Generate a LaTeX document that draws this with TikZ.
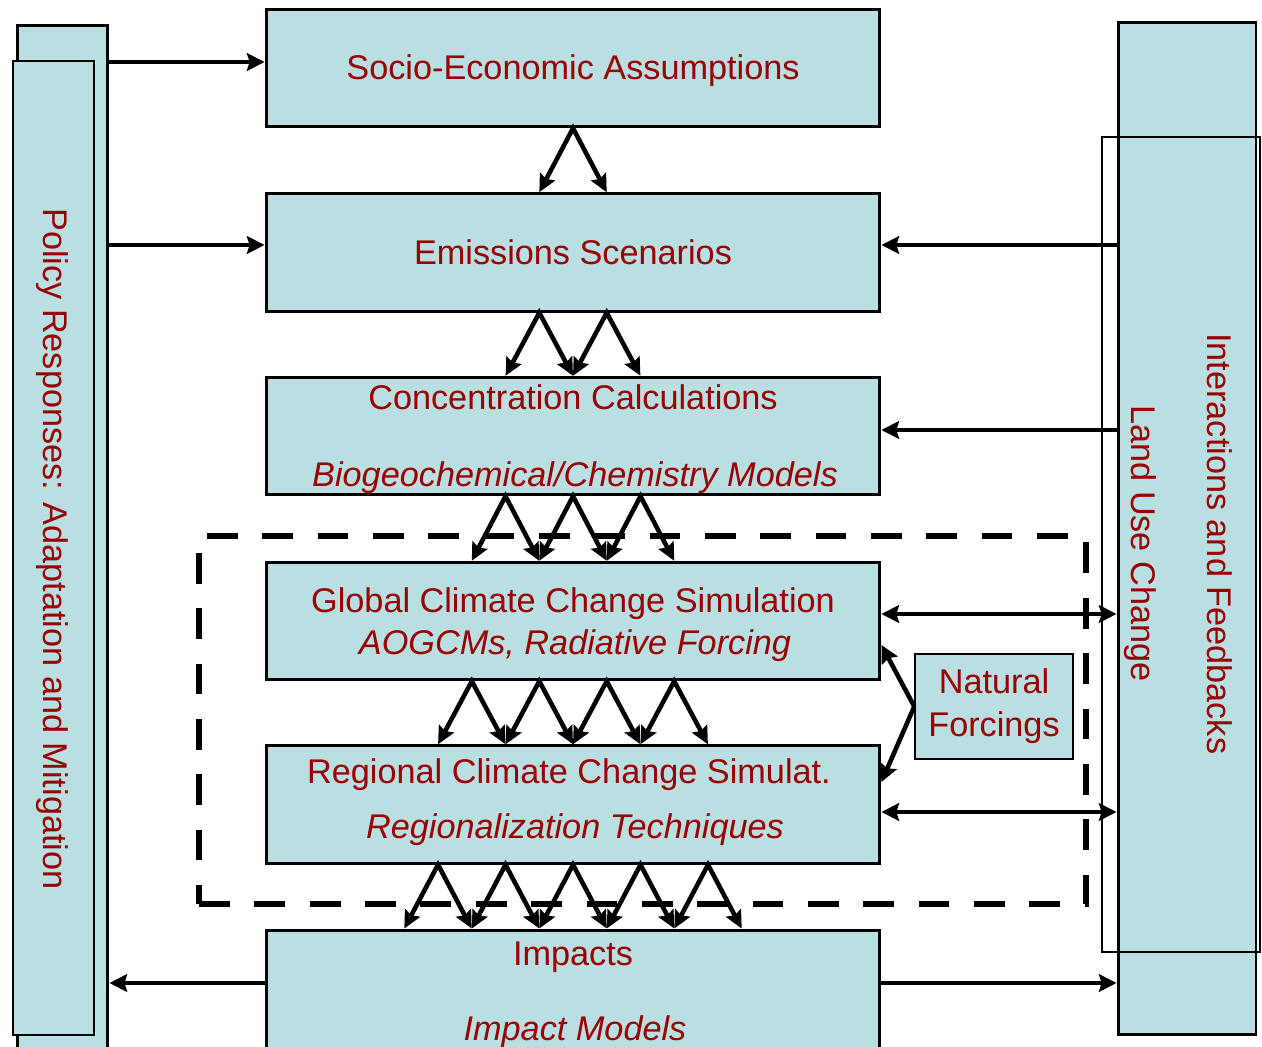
\documentclass[tikz,border=0pt]{standalone}
\usepackage{fontspec}
\setmainfont{Liberation Sans}
\usetikzlibrary{arrows.meta,positioning,calc}
\definecolor{boxfill}{HTML}{B9DFE2}
\definecolor{txtred} {HTML}{9A0000}

\begin{document}
\begin{tikzpicture}[
  x=0.02cm, y=-0.02cm,
  box/.style={rectangle, draw=black, fill=boxfill, line width=1.7pt, inner sep=0pt,
              minimum width=12.28cm, minimum height=2.35cm},
  thinbox/.style={rectangle, draw=black, fill=boxfill, line width=0.85pt, inner sep=0pt},
  txt/.style={inner sep=0pt, anchor=base, text=txtred, font=\fontsize{19.5}{23}\selectfont},
  ital/.style={txt, font=\fontsize{19.5}{23}\selectfont\itshape},
  arr/.style={-{Stealth[length=10pt,width=10pt,inset=1.5pt]}, line width=2.7pt},
  darr/.style={{Stealth[length=10pt,width=10pt,inset=1.5pt]}-{Stealth[length=10pt,width=10pt,inset=1.5pt]}, line width=2.7pt},
  zz/.style={{Stealth[length=10pt,width=9.5pt,inset=1.5pt]}-{Stealth[length=10pt,width=9.5pt,inset=1.5pt]}, line width=2.6pt, line join=miter}
]
\useasboundingbox (0,0) rectangle (1262,1047);
\clip (0,0) rectangle (1262,1047);

% side columns
\node[thinbox, line width=1.7pt, minimum width=1.82cm, minimum height=21cm] (polB) at (62.5,550) {};
\node[thinbox, minimum width=1.62cm, minimum height=19.48cm] (polF) at (53.5,548) {};
\node[thinbox, line width=1.7pt, minimum width=2.76cm, minimum height=20.26cm] (fbB) at (1187,528.5) {};
\node[rectangle, draw=black, line width=0.85pt, minimum width=3.16cm, minimum height=16.3cm] (fbF) at (1181,544.5) {};

% main chain
\node[box] (soc)  at (573,68) {};
\node[box] (emi)  at (573,252.5) {};
\node[box] (conc) at (573,436) {};
\node[box] (glob) at (573,621) {};
\node[box] (reg)  at (573,804.5) {};
\node[box, minimum height=3cm] (imp) at (573,1005) {};

% climate model frame
\node[rectangle, draw=black, line width=3.4pt, dash pattern=on 17.5pt off 14pt,
      minimum width=17.74cm, minimum height=7.36cm] (frame) at (642.5,720) {};

\node[thinbox, minimum width=3.16cm, minimum height=2.1cm, align=center, text=txtred,
      font=\fontsize{19.5}{24.4}\selectfont] (nat) at (994,706.5) {Natural\\Forcings};

% fans between the boxes
\foreach \a/\b/\offs in {soc/emi/{0}, emi/conc/{-33.7,33.7}, conc/glob/{-67.5,0,67.5},
    glob/reg/{-101.2,-33.7,33.7,101.2}, reg/imp/{-135,-67.5,0,67.5,135}}{
  \foreach \o in \offs{
    \draw[zz] ($(\b.north)+(\o-33.7,0)$) -- ($(\a.south)+(\o,0)$) -- ($(\b.north)+(\o+33.7,0)$);
  }
}

% policy side
\draw[arr] ($(soc.west -| polB.east)+(0,-6)$) -- ($(soc.west)+(0,-6)$);
\draw[arr] ($(emi.west -| polB.east)+(0,-7.5)$) -- ($(emi.west)+(0,-7.5)$);
\draw[arr] ($(imp.west)+(0,-22)$) -- ($(imp.west -| polB.east)+(0,-22)$);

% feedback side
\draw[arr] ($(emi.east -| fbB.west)+(0,-7.5)$) -- ($(emi.east)+(0,-7.5)$);
\draw[arr] ($(conc.east -| fbB.west)+(0,-6)$) -- ($(conc.east)+(0,-6)$);
\draw[darr] ($(glob.east)+(0,-7)$) -- ($(glob.east -| fbB.west)+(0,-7)$);
\draw[darr] ($(reg.east)+(0,7.5)$) -- ($(reg.east -| fbB.west)+(0,7.5)$);
\draw[arr, line width=2pt] ($(imp.east)+(0,-22)$) -- ($(imp.east -| fbB.west)+(0,-22)$);

% natural forcings
\draw[arr, line width=2.6pt] (nat.west) -- ($(glob.east)+(0,24)$);
\draw[arr, line width=2.6pt] (nat.west) -- ($(reg.east)+(0,-22.5)$);

% labels
\node[txt] (socT)  at (573,80)  {Socio-Economic Assumptions};
\node[txt] (emiT)  at (573,265) {Emissions Scenarios};
\node[txt] (concT) at (573,410) {Concentration Calculations};
\node[ital] (concM) at (575,487) {Biogeochemical/Chemistry Models};
\node[txt] (globT) at (573,613) {Global Climate Change Simulation};
\node[ital] (globM) at (575,655) {AOGCMs, Radiative Forcing};
\node[txt] (regT)  at (569,783) {Regional Climate Change Simulat.};
\node[ital] (regM)  at (575,838) {Regionalization Techniques};
\node[txt] (impT)  at (573,965) {Impacts};
\node[ital] (impM)  at (575,1040) {Impact Models};
\node[txt, rotate=-90, anchor=base west] (polT) at (43,208) {Policy Responses: Adaptation and Mitigation};
\node[txt, rotate=-90, anchor=base west] (luT)  at (1131,405) {Land Use Change};
\node[txt, rotate=-90, anchor=base west] (fbT)  at (1207,333) {Interactions and Feedbacks};
\end{tikzpicture}
\end{document}
